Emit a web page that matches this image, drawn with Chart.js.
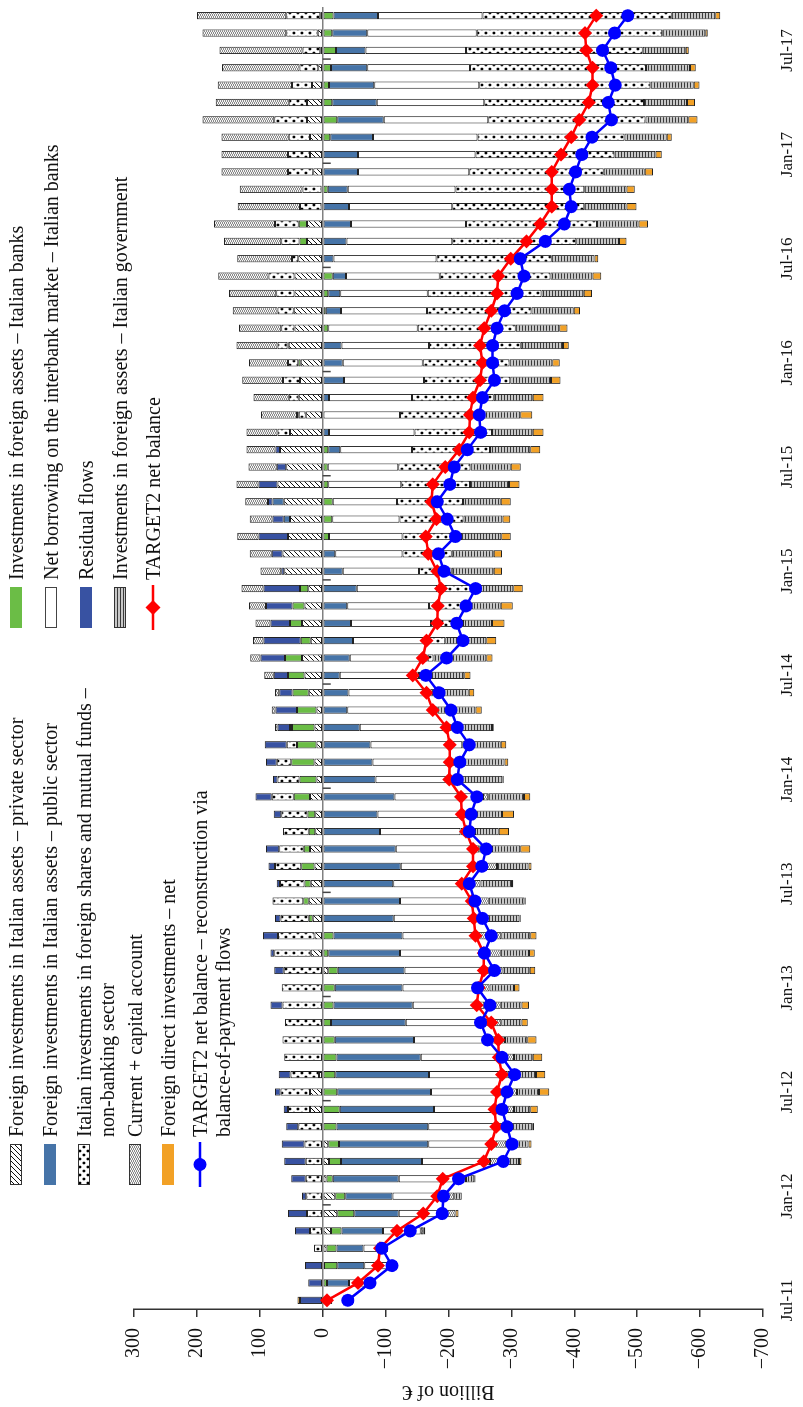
<!DOCTYPE html>
<html><head><meta charset="utf-8">
<script src="https://cdn.jsdelivr.net/npm/chart.js@4.4.0/dist/chart.umd.min.js"></script>
<style>
html,body{margin:0;padding:0;background:#fff;overflow:hidden;}
body{width:803px;height:1407px;position:relative;}
#rot{position:absolute;left:0;top:0;width:1407px;height:803px;transform-origin:0 0;transform:translateY(1407px) rotate(-90deg);background:#fff;}
#c{position:absolute;left:0;top:0;}
.lg{position:absolute;font-family:'Liberation Serif','Times New Roman',serif;font-size:20px;line-height:23px;color:#111;white-space:nowrap;}
</style></head><body>
<div id="rot"><canvas id="c" width="1407" height="803"></canvas><div id="legend"></div></div>
<script>
const categories = ["Jul-11","Aug-11","Sep-11","Oct-11","Nov-11","Dec-11",
"Jan-12","Feb-12","Mar-12","Apr-12","May-12","Jun-12","Jul-12","Aug-12","Sep-12","Oct-12","Nov-12","Dec-12",
"Jan-13","Feb-13","Mar-13","Apr-13","May-13","Jun-13","Jul-13","Aug-13","Sep-13","Oct-13","Nov-13","Dec-13",
"Jan-14","Feb-14","Mar-14","Apr-14","May-14","Jun-14","Jul-14","Aug-14","Sep-14","Oct-14","Nov-14","Dec-14",
"Jan-15","Feb-15","Mar-15","Apr-15","May-15","Jun-15","Jul-15","Aug-15","Sep-15","Oct-15","Nov-15","Dec-15",
"Jan-16","Feb-16","Mar-16","Apr-16","May-16","Jun-16","Jul-16","Aug-16","Sep-16","Oct-16","Nov-16","Dec-16",
"Jan-17","Feb-17","Mar-17","Apr-17","May-17","Jun-17","Jul-17","Aug-17","Sep-17"];

// Foreign investments in Italian assets – private sector
const privateSector = [-12,0,-2,-6,-13,-23,-20,-6,-10,-9,
 0,20,20,6,0,0,0,0,0,-9,
 19,13,16,22,19,13,20,12,12,20,
 10,13,10,13,10,22,29,33,19,33,
 29,23,61,64,55,52,62,72,58,68,
 52,27,38,36,35,54,45,46,45,45,
 39,25,25,2,2,15,20,20,25,25,
 17,7,4,8,4];
// Investments in foreign assets – Italian banks
const italianBanks = [-3,-7,-21,-16,-17,-27,-16,-10,-19,-17,
 -22,-27,-23,-20,-22,-19,-13,-17,-19,-15,
 -9,-17,6,9,10,21,10,10,12,26,
 27,37,31,36,31,26,26,27,16,19,
 19,13,0,0,-10,-15,-16,-9,-8,-9,
 0,0,0,0,4,2,-9,-5,-9,-16,
 0,12,13,0,-8,0,0,-12,-23,-15,
 -10,-13,-21,-15,-17];
// Foreign investments in Italian assets – public sector
const publicSector = [0,-35,-43,-43,-66,-71,-75,-105,-129,-142,
 -146,-150,-149,-149,-134,-126,-119,-126,-108,-106,
 -114,-110,-113,-123,-112,-124,-116,-91,-87,-114,
 -84,-79,-76,-59,-39,-41,-27,-43,-48,-45,
 -39,-54,-32,-20,0,10,18,0,0,-19,
 -10,0,-10,-34,-32,-30,0,-24,-19,-21,
 -17,-38,-45,-42,-32,-56,-56,-68,-74,-71,
 -72,-58,-47,-56,-71];
// Net borrowing on the interbank market – Italian banks
const interbank = [0,-37,-49,-39,-60,-75,-86,-98,-108,-107,
 -121,-112,-123,-125,-133,-133,-138,-114,-121,-134,
 -140,-119,-126,-115,-117,-124,-133,-128,-132,-141,
 -128,-143,-146,-146,-143,-130,-126,-124,-117,-127,
 -130,-128,-121,-107,-117,-107,-102,-116,-112,-114,
 -136,-123,-132,-127,-127,-139,-142,-137,-139,-149,
 -164,-168,-183,-164,-171,-177,-187,-166,-166,-171,
 -167,-163,-160,-174,-166];
// Italian investments in foreign shares and mutual funds (outflow part)
const fundsOut = [0,0,0,0,0,0,0,0,0,0,
 0,0,0,0,0,0,0,0,0,0,
 0,0,0,0,0,0,0,0,0,0,
 0,0,0,0,0,0,0,-9,-30,-51,
 -68,-69,-52,-78,-93,-102,-105,-109,-115,-124,
 -123,-131,-130,-137,-138,-146,-156,-166,-181,-176,
 -183,-197,-208,-210,-205,-214,-221,-234,-250,-254,
 -272,-280,-281,-295,-301];
// Italian investments in foreign shares and mutual funds (inflow part)
const fundsIn = [0,0,0,14,20,25,26,27,27,29,
 39,35,47,45,61,64,60,64,65,62,
 58,58,45,49,39,42,39,41,42,35,
 35,23,16,3,0,0,0,0,0,0,
 0,0,0,0,0,0,0,0,0,0,
 20,11,16,27,16,16,21,26,29,41,
 10,29,38,34,30,40,35,34,52,29,
 32,30,28,50,54];
// Residual flows
const residual = [36,23,28,0,24,30,7,23,34,36,
 19,7,9,19,0,0,0,19,0,15,
 6,24,9,0,5,10,21,0,12,26,
 7,17,35,20,34,21,23,39,59,31,
 42,58,5,17,47,18,7,30,15,7,
 0,3,0,0,0,0,0,0,0,0,
 0,0,0,0,0,0,0,0,0,0,
 0,0,0,0,0];
// Current + capital account
const currentCapital = [0,0,0,0,-4,-15,-12,-9,-14,-17,
 -12,-15,-14,-9,-15,-12,-14,-26,-17,-22,
 -20,-38,-23,-26,-22,-29,-20,-23,-15,-8,
 -5,-3,0,4,6,7,15,16,17,24,
 27,35,33,35,34,36,36,35,45,46,
 49,57,56,65,62,65,67,71,75,80,
 87,91,97,99,100,106,106,107,114,116,
 118,123,132,133,142];
// Investments in foreign assets – Italian government
const government = [0,0,0,0,0,0,-12,-13,-32,-35,
 -32,-26,-35,-36,-30,-35,-32,-33,-39,-43,
 -45,-46,-51,-57,-50,-50,-45,-38,-51,-57,
 -69,-64,-61,-64,-61,-61,-72,-84,-65,-46,
 -46,-52,-67,-67,-64,-62,-60,-62,-64,-64,
 -65,-60,-62,-65,-68,-67,-69,-67,-67,-67,
 -68,-68,-66,-67,-67,-65,-65,-67,-68,-68,
 -69,-70,-68,-68,-69];
// Foreign direct investments – net
const fdiNet = [4,0,0,0,-3,-5,0,-2,-4,-5,
 -3,-12,-16,-15,-15,-15,-10,-12,-9,-9,
 -9,-10,-2,-2,-2,-5,-16,-16,-19,-10,
 -2,-6,-9,-3,-10,-9,-10,-10,-16,-20,
 -19,-15,-13,-13,-15,-12,-16,-17,-16,-16,
 -17,-19,-17,-15,-12,-9,-13,-10,-13,-14,
 -6,-12,-15,-16,-13,-13,-10,-8,-15,-13,
 -9,-9,-5,-4,-8];
// TARGET2 net balance
const target2 = [-7,-56,-88,-91,-118,-160,-182,-191,-256,-268,
 -276,-273,-277,-285,-280,-279,-268,-245,-248,-256,
 -256,-243,-240,-237,-221,-239,-239,-228,-221,-220,
 -201,-202,-202,-197,-175,-165,-143,-159,-165,-182,
 -183,-188,-182,-168,-164,-181,-173,-175,-195,-217,
 -233,-234,-239,-250,-254,-250,-257,-268,-277,-279,
 -299,-324,-346,-364,-364,-364,-379,-395,-408,-423,
 -429,-429,-419,-417,-435];
// TARGET2 net balance – reconstruction via balance-of-payment flows
const reconstruction = [-40,-75,-110,-94,-139,-190,-192,-216,-287,-301,
 -293,-285,-293,-305,-285,-262,-251,-266,-246,-273,
 -257,-268,-254,-242,-233,-253,-260,-233,-236,-245,
 -214,-218,-233,-214,-204,-185,-164,-197,-223,-213,
 -228,-243,-193,-184,-211,-198,-182,-202,-209,-230,
 -251,-249,-254,-273,-270,-270,-277,-289,-309,-320,
 -314,-354,-384,-395,-392,-402,-412,-428,-459,-454,
 -465,-458,-445,-464,-485];

const FONT = "'Liberation Serif','Times New Roman',serif";
const INK = '#111';

function tile(w,h,fn){const c=document.createElement('canvas');c.width=w;c.height=h;const g=c.getContext('2d');fn(g,w,h);return c;}
const tiles = {
  hatch: tile(5,5,(g)=>{g.fillStyle='#fff';g.fillRect(0,0,5,5);g.strokeStyle='#111';g.lineWidth=1;g.beginPath();
    g.moveTo(-1,6);g.lineTo(6,-1);g.moveTo(-6,6);g.lineTo(1,-1);g.moveTo(4,6);g.lineTo(11,-1);g.stroke();}),
  dots: tile(8,8,(g)=>{g.fillStyle='#fff';g.fillRect(0,0,8,8);g.fillStyle='#000';
    g.beginPath();g.arc(2,2,1.4,0,Math.PI*2);g.fill();g.beginPath();g.arc(6,6,1.4,0,Math.PI*2);g.fill();}),
  checker: tile(4,4,(g)=>{g.fillStyle='#8a8a8a';g.fillRect(0,0,4,4);g.fillStyle='#f6f6f6';
    g.fillRect(1,0,2,1);g.fillRect(0,1,1,1);g.fillRect(3,1,1,1);g.fillRect(1,2,2,1);g.fillRect(0,3,1,1);g.fillRect(3,3,1,1);}),
  stripes: tile(3,3,(g)=>{g.fillStyle='#c8c8c8';g.fillRect(0,0,3,3);g.fillStyle='#3a3a3a';g.fillRect(0,0,3,1);})
};
const SOLID = {pub:'#4674a8', banks:'#6bbd46', interbank:'#ffffff', resid:'#3852a2', fdi:'#f2a126'};

const canvas = document.getElementById('c');
const ctx = canvas.getContext('2d');
const P = k => ctx.createPattern(tiles[k],'repeat');
const nz = a => a.map(v => v === 0 ? null : v);

function barSet(label, arr, fill){
  return {type:'bar', label, data:nz(arr), backgroundColor:fill, borderColor:'#222', borderWidth:1,
    borderSkipped:false, order:2, yAxisID:'y', barPercentage:0.42, categoryPercentage:1};
}

const zeroPlugin = {
  id:'zeroLine',
  beforeDatasetsDraw(chart){ chart.$zeroDone = false; },
  beforeDatasetDraw(chart, args){
    if (chart.$zeroDone || args.meta.type !== 'line') return;
    chart.$zeroDone = true;
    const c = chart.ctx, a = chart.chartArea, ys = chart.scales.y, xs = chart.scales.x;
    const y0 = ys.getPixelForValue(0);
    c.save();
    c.strokeStyle = '#808080'; c.lineWidth = 1.5;
    c.beginPath(); c.moveTo(a.left, y0); c.lineTo(a.right, y0); c.stroke();
    c.strokeStyle = '#444'; c.lineWidth = 1.5;
    for (let k = 5; k < categories.length - 1; k += 6) {
      const x = (xs.getPixelForValue(k) + xs.getPixelForValue(k + 1)) / 2;
      c.beginPath(); c.moveTo(x, y0); c.lineTo(x, y0 + 8); c.stroke();
    }
    c.restore();
  }
};

new Chart(ctx, {
  data: {
    labels: categories,
    datasets: [
      {type:'line', label:'TARGET2 net balance – reconstruction via balance-of-payment flows', data:reconstruction,
        yAxisID:'y2', order:0, borderColor:'#0000ff', backgroundColor:'#0000ff', borderWidth:2.5,
        pointStyle:'circle', pointRadius:6.5, pointBorderWidth:0, pointBackgroundColor:'#0000ff', tension:0, fill:false},
      {type:'line', label:'TARGET2 net balance', data:target2,
        yAxisID:'y2', order:1, borderColor:'#ff0000', backgroundColor:'#ff0000', borderWidth:2.5,
        pointStyle:'rectRot', pointRadius:7, pointBorderWidth:0, pointBackgroundColor:'#ff0000', tension:0, fill:false},
      barSet('Foreign investments in Italian assets – private sector', privateSector, P('hatch')),
      barSet('Investments in foreign assets – Italian banks', italianBanks, SOLID.banks),
      barSet('Foreign investments in Italian assets – public sector', publicSector, SOLID.pub),
      barSet('Net borrowing on the interbank market – Italian banks', interbank, SOLID.interbank),
      barSet('Italian investments in foreign shares and mutual funds – non-banking sector', fundsOut, P('dots')),
      barSet('Italian investments in foreign shares and mutual funds – non-banking sector ', fundsIn, P('dots')),
      barSet('Residual flows', residual, SOLID.resid),
      barSet('Current + capital account', currentCapital, P('checker')),
      barSet('Investments in foreign assets – Italian government', government, P('stripes')),
      barSet('Foreign direct investments – net', fdiNet, SOLID.fdi)
    ]
  },
  options: {
    responsive:false, animation:false, events:[],
    layout:{padding:{left:0, right:5, top:134, bottom:0}},
    plugins:{legend:{display:false}, tooltip:{enabled:false}, title:{display:false}},
    scales:{
      x:{type:'category', stacked:true, offset:true,
        grid:{display:false, drawTicks:false}, border:{display:false},
        ticks:{autoSkip:false, maxRotation:0, minRotation:0, padding:14, color:INK,
          font:{family:FONT, size:17},
          callback:(v,i)=> i % 6 === 0 ? categories[i] : ''},
        afterFit(s){ s.height = 40; }},
      y:{type:'linear', stacked:true, min:-700, max:300, position:'left',
        ticks:{stepSize:100, padding:11, color:INK, font:{family:FONT, size:20},
          callback:v => v < 0 ? '\u2212' + Math.abs(v) : String(v)},
        grid:{drawOnChartArea:false, drawTicks:true, tickLength:8, color:'#333', lineWidth:1.5},
        border:{display:true, color:'#333', width:1.5},
        title:{display:true, text:'Billion of €', color:INK, font:{family:FONT, size:20}, padding:{top:4, bottom:0}},
        afterFit(s){ s.width = 98; }},
      y2:{type:'linear', display:false, min:-700, max:300, stacked:false}
    }
  },
  plugins:[zeroPlugin]
});

// ----- legend (HTML, inside the rotated frame) -----
const legendEl = document.getElementById('legend');
function sw(x, y, w, h, paint){
  const c = document.createElement('canvas'); c.width = w; c.height = h;
  c.style.cssText = `position:absolute;left:${x}px;top:${y}px;`;
  paint(c.getContext('2d'), w, h); legendEl.appendChild(c);
}
function fillSwatch(fill, border){
  return (g,w,h)=>{
    g.fillStyle = (fill instanceof HTMLCanvasElement) ? g.createPattern(fill,'repeat') : fill;
    g.fillRect(0,0,w,h);
    if (border){ g.strokeStyle = border; g.lineWidth = 1; g.strokeRect(0.5,0.5,w-1,h-1); }
  };
}
function lineSwatch(color, marker){
  return (g,w,h)=>{
    g.strokeStyle = color; g.lineWidth = 2.5; g.beginPath(); g.moveTo(0,h/2); g.lineTo(w,h/2); g.stroke();
    g.fillStyle = color; g.beginPath();
    if (marker === 'circle') g.arc(w/2,h/2,6.5,0,Math.PI*2);
    else { g.moveTo(w/2,h/2-7.5); g.lineTo(w/2+7.5,h/2); g.lineTo(w/2,h/2+7.5); g.lineTo(w/2-7.5,h/2); g.closePath(); }
    g.fill();
  };
}
const cols = [{sx:222, tx:270}, {sx:779, tx:827}];
const legendItems = [
  {col:0, cy:16,  lines:['Foreign investments in Italian assets – private sector'], paint:fillSwatch(tiles.hatch,'#333')},
  {col:0, cy:50,  lines:['Foreign investments in Italian assets – public sector'], paint:fillSwatch(SOLID.pub)},
  {col:0, cy:84,  lines:['Italian investments in foreign shares and mutual funds –','non-banking sector'], paint:fillSwatch(tiles.dots,'#333')},
  {col:0, cy:135, lines:['Current + capital account'], paint:fillSwatch(tiles.checker,'#333')},
  {col:0, cy:168, lines:['Foreign direct investments – net'], paint:fillSwatch(SOLID.fdi)},
  {col:0, cy:200, lines:['TARGET2 net balance – reconstruction via','balance-of-payment flows'], paint:lineSwatch('#0000ff','circle'), line:true},
  {col:1, cy:16,  lines:['Investments in foreign assets – Italian banks'], paint:fillSwatch(SOLID.banks)},
  {col:1, cy:51,  lines:['Net borrowing on the interbank market – Italian banks'], paint:fillSwatch('#fff','#444')},
  {col:1, cy:86,  lines:['Residual flows'], paint:fillSwatch(SOLID.resid)},
  {col:1, cy:120, lines:['Investments in foreign assets – Italian government'], paint:fillSwatch(tiles.stripes,'#333')},
  {col:1, cy:153, lines:['TARGET2 net balance'], paint:lineSwatch('#ff0000','diamond'), line:true}
];
legendItems.forEach(it=>{
  const col = cols[it.col];
  if (it.line) sw(col.sx - 2, it.cy - 9, 45, 18, it.paint);
  else sw(col.sx, it.cy - 6, 41, 12, it.paint);
  const d = document.createElement('div'); d.className = 'lg';
  d.style.left = col.tx + 'px'; d.style.top = (it.cy - 11) + 'px';
  d.innerHTML = it.lines.join('<br>');
  legendEl.appendChild(d);
});
</script>
</body></html>
